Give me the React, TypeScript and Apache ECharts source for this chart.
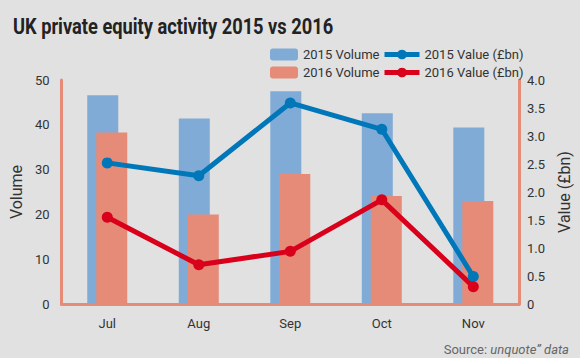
import React, { useEffect, useRef } from "react";
import * as echarts from "echarts";

const categories = ["Jul", "Aug", "Sep", "Oct", "Nov"];
const volume2015 = [46.6, 41.4, 47.5, 42.6, 39.4];
const volume2016 = [38.3, 20.0, 29.0, 24.1, 23.0];
const value2015 = [2.52, 2.29, 3.59, 3.12, 0.49];
const value2016 = [1.55, 0.7, 0.94, 1.86, 0.31];

const FONT = "Roboto, 'Liberation Sans', sans-serif";
const BLUE_BAR = "#80abd6";
const RED_BAR = "#e68b78";
const BLUE_LINE = "#0077b8";
const RED_LINE = "#d9001b";
const AXIS = "#e68b78";

export default function App() {
  const ref = useRef<HTMLDivElement>(null);
  useEffect(() => {
    document.body.style.margin = "0";
    const chart = echarts.init(ref.current!, null, { renderer: "svg" });
    chart.setOption({
      animation: false,
      backgroundColor: "#e1e1e1",
      textStyle: { fontFamily: FONT },
      graphic: [
        {
          type: "text",
          x: 13,
          y: 15,
          scaleX: 0.83,
          style: {
            text: "UK private equity activity 2015 vs 2016",
            fontFamily: FONT,
            fontWeight: "bold",
            fontSize: 22,
            fill: "#222",
            textVerticalAlign: "top",
          },
        },
      ],
      title: [
        {
          text: "{a|Source: }{b|unquote\u201d data}",
          right: 6,
          top: 338,
          textStyle: {
            rich: {
              a: { fontFamily: FONT, fontSize: 13, color: "#666", fontWeight: "normal" },
              b: { fontFamily: FONT, fontSize: 13, color: "#666", fontStyle: "italic", fontWeight: "normal" },
            },
          },
        },
      ],
      legend: [
        {
          orient: "vertical",
          left: 265,
          top: 43,
          itemWidth: 28,
          itemHeight: 12,
          itemGap: 5,
          data: ["2015 Volume", "2016 Volume"],
          textStyle: { fontFamily: FONT, fontSize: 13, color: "#333" },
        },
        {
          orient: "vertical",
          left: 377,
          top: 43,
          itemWidth: 35,
          itemHeight: 12,
          itemGap: 5,
          lineStyle: { width: 5 },
          data: ["2015 Value (£bn)", "2016 Value (£bn)"],
          textStyle: { fontFamily: FONT, fontSize: 13, color: "#333" },
        },
      ],
      grid: { left: 53, right: 56, top: 80, bottom: 54 },
      xAxis: {
        type: "category",
        data: categories,
        axisLine: { lineStyle: { color: AXIS, width: 3 } },
        axisTick: { show: false },
        axisLabel: { color: "#333", fontSize: 13, fontFamily: FONT, margin: 13 },
      },
      yAxis: [
        {
          type: "value",
          min: 0,
          max: 50,
          interval: 10,
          name: "Volume",
          nameLocation: "middle",
          nameRotate: 90,
          nameGap: 30,
          nameTextStyle: { fontSize: 16, color: "#333", fontFamily: FONT },
          axisLine: { show: true, lineStyle: { color: AXIS, width: 3 } },
          axisTick: { show: false },
          splitLine: { show: false },
          axisLabel: { color: "#333", fontSize: 13, fontFamily: FONT, margin: 12 },
        },
        {
          type: "value",
          min: 0,
          max: 4,
          interval: 0.5,
          name: "Value (£bn)",
          nameLocation: "middle",
          nameRotate: 90,
          nameGap: 34,
          nameTextStyle: { fontSize: 16, color: "#333", fontFamily: FONT },
          axisLine: { show: true, lineStyle: { color: AXIS, width: 3 } },
          axisTick: { show: false },
          splitLine: { show: false },
          axisLabel: {
            color: "#333",
            fontSize: 13,
            fontFamily: FONT,
            margin: 8,
            formatter: (v: number) => (v === 0 ? "0" : v.toFixed(1)),
          },
        },
      ],
      series: [
        {
          name: "2015 Volume",
          type: "bar",
          data: volume2015,
          barWidth: 31,
          barGap: "-71%",
          itemStyle: { color: BLUE_BAR },
        },
        {
          name: "2016 Volume",
          type: "bar",
          data: volume2016,
          barWidth: 31,
          barGap: "-71%",
          itemStyle: { color: RED_BAR },
        },
        {
          name: "2015 Value (£bn)",
          type: "line",
          yAxisIndex: 1,
          data: value2015,
          symbol: "circle",
          symbolSize: 11,
          lineStyle: { color: BLUE_LINE, width: 5 },
          itemStyle: { color: BLUE_LINE },
        },
        {
          name: "2016 Value (£bn)",
          type: "line",
          yAxisIndex: 1,
          data: value2016,
          symbol: "circle",
          symbolSize: 11,
          lineStyle: { color: RED_LINE, width: 5 },
          itemStyle: { color: RED_LINE },
        },
      ],
    });
    return () => chart.dispose();
  }, []);
  return (
    <div
      ref={ref}
      style={{ width: 580, height: 358, position: "fixed", left: 0, top: 0 }}
    />
  );
}
